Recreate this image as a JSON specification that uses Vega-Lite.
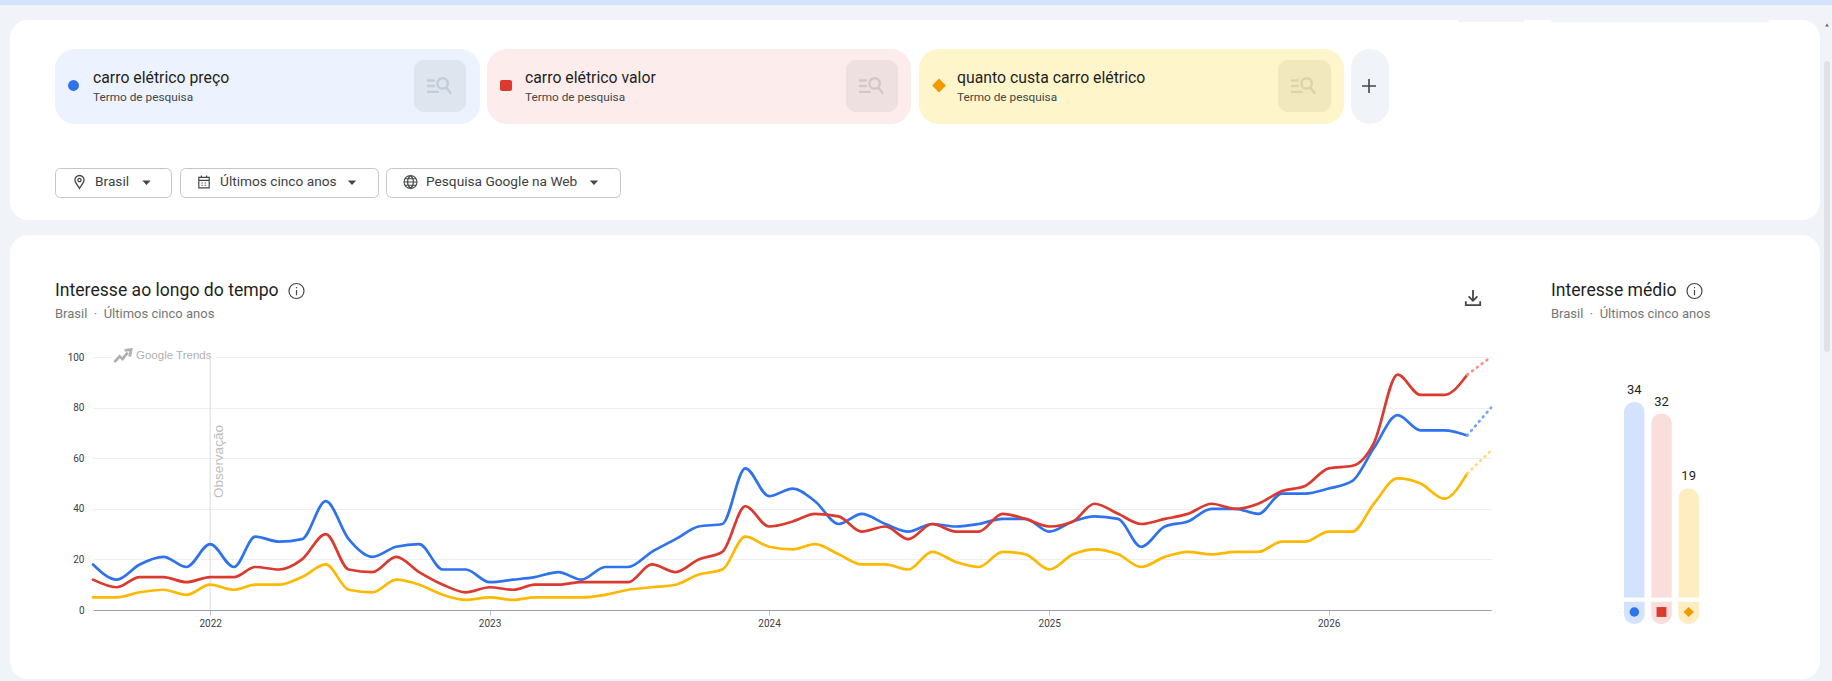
{
"$schema":"https://vega.github.io/schema/vega-lite/v6.json",
"width":1398,"height":253,
"autosize":{"type":"none"},
"padding":{"left":93,"top":357,"right":341,"bottom":71},
"background":"#ffffff",
"config":{"view":{"stroke":null},"axis":{"disable":true},"font":"Roboto"},
"data":{"values":[{}]},
"datasets":{
"media":[{"termo":"preço","media":34},{"termo":"valor","media":32},{"termo":"custa","media":19}],
"serie":[
{"mes":"2021-08-01T00:00","termo":"preço","valor":18},{"mes":"2021-09-01T00:00","termo":"preço","valor":12},{"mes":"2021-10-01T00:00","termo":"preço","valor":18},{"mes":"2021-11-01T00:00","termo":"preço","valor":21},{"mes":"2021-12-01T00:00","termo":"preço","valor":17},
{"mes":"2022-01-01T00:00","termo":"preço","valor":26},{"mes":"2022-02-01T00:00","termo":"preço","valor":17},{"mes":"2022-03-01T00:00","termo":"preço","valor":29},{"mes":"2022-04-01T00:00","termo":"preço","valor":27},{"mes":"2022-05-01T00:00","termo":"preço","valor":28},{"mes":"2022-06-01T00:00","termo":"preço","valor":43},{"mes":"2022-07-01T00:00","termo":"preço","valor":28},{"mes":"2022-08-01T00:00","termo":"preço","valor":21},{"mes":"2022-09-01T00:00","termo":"preço","valor":25},{"mes":"2022-10-01T00:00","termo":"preço","valor":26},{"mes":"2022-11-01T00:00","termo":"preço","valor":16},{"mes":"2022-12-01T00:00","termo":"preço","valor":16},
{"mes":"2023-01-01T00:00","termo":"preço","valor":11},{"mes":"2023-02-01T00:00","termo":"preço","valor":12},{"mes":"2023-03-01T00:00","termo":"preço","valor":13},{"mes":"2023-04-01T00:00","termo":"preço","valor":15},{"mes":"2023-05-01T00:00","termo":"preço","valor":12},{"mes":"2023-06-01T00:00","termo":"preço","valor":17},{"mes":"2023-07-01T00:00","termo":"preço","valor":17},{"mes":"2023-08-01T00:00","termo":"preço","valor":23},{"mes":"2023-09-01T00:00","termo":"preço","valor":28},{"mes":"2023-10-01T00:00","termo":"preço","valor":33},{"mes":"2023-11-01T00:00","termo":"preço","valor":34},{"mes":"2023-12-01T00:00","termo":"preço","valor":56},
{"mes":"2024-01-01T00:00","termo":"preço","valor":45},{"mes":"2024-02-01T00:00","termo":"preço","valor":48},{"mes":"2024-03-01T00:00","termo":"preço","valor":43},{"mes":"2024-04-01T00:00","termo":"preço","valor":34},{"mes":"2024-05-01T00:00","termo":"preço","valor":38},{"mes":"2024-06-01T00:00","termo":"preço","valor":34},{"mes":"2024-07-01T00:00","termo":"preço","valor":31},{"mes":"2024-08-01T00:00","termo":"preço","valor":34},{"mes":"2024-09-01T00:00","termo":"preço","valor":33},{"mes":"2024-10-01T00:00","termo":"preço","valor":34},{"mes":"2024-11-01T00:00","termo":"preço","valor":36},{"mes":"2024-12-01T00:00","termo":"preço","valor":36},
{"mes":"2025-01-01T00:00","termo":"preço","valor":31},{"mes":"2025-02-01T00:00","termo":"preço","valor":35},{"mes":"2025-03-01T00:00","termo":"preço","valor":37},{"mes":"2025-04-01T00:00","termo":"preço","valor":36},{"mes":"2025-05-01T00:00","termo":"preço","valor":25},{"mes":"2025-06-01T00:00","termo":"preço","valor":33},{"mes":"2025-07-01T00:00","termo":"preço","valor":35},{"mes":"2025-08-01T00:00","termo":"preço","valor":40},{"mes":"2025-09-01T00:00","termo":"preço","valor":40},{"mes":"2025-10-01T00:00","termo":"preço","valor":38},{"mes":"2025-11-01T00:00","termo":"preço","valor":46},{"mes":"2025-12-01T00:00","termo":"preço","valor":46},
{"mes":"2026-01-01T00:00","termo":"preço","valor":48},{"mes":"2026-02-01T00:00","termo":"preço","valor":51},{"mes":"2026-03-01T00:00","termo":"preço","valor":64},{"mes":"2026-04-01T00:00","termo":"preço","valor":77},{"mes":"2026-05-01T00:00","termo":"preço","valor":71},{"mes":"2026-06-01T00:00","termo":"preço","valor":71},{"mes":"2026-07-01T00:00","termo":"preço","valor":69,"fase":"junção"},{"mes":"2026-08-01T00:00","termo":"preço","valor":80,"fase":"parcial"},
{"mes":"2021-08-01T00:00","termo":"valor","valor":12},{"mes":"2021-09-01T00:00","termo":"valor","valor":9},{"mes":"2021-10-01T00:00","termo":"valor","valor":13},{"mes":"2021-11-01T00:00","termo":"valor","valor":13},{"mes":"2021-12-01T00:00","termo":"valor","valor":11},
{"mes":"2022-01-01T00:00","termo":"valor","valor":13},{"mes":"2022-02-01T00:00","termo":"valor","valor":13},{"mes":"2022-03-01T00:00","termo":"valor","valor":17},{"mes":"2022-04-01T00:00","termo":"valor","valor":16},{"mes":"2022-05-01T00:00","termo":"valor","valor":20},{"mes":"2022-06-01T00:00","termo":"valor","valor":30},{"mes":"2022-07-01T00:00","termo":"valor","valor":16},{"mes":"2022-08-01T00:00","termo":"valor","valor":15},{"mes":"2022-09-01T00:00","termo":"valor","valor":21},{"mes":"2022-10-01T00:00","termo":"valor","valor":15},{"mes":"2022-11-01T00:00","termo":"valor","valor":10},{"mes":"2022-12-01T00:00","termo":"valor","valor":7},
{"mes":"2023-01-01T00:00","termo":"valor","valor":9},{"mes":"2023-02-01T00:00","termo":"valor","valor":8},{"mes":"2023-03-01T00:00","termo":"valor","valor":10},{"mes":"2023-04-01T00:00","termo":"valor","valor":10},{"mes":"2023-05-01T00:00","termo":"valor","valor":11},{"mes":"2023-06-01T00:00","termo":"valor","valor":11},{"mes":"2023-07-01T00:00","termo":"valor","valor":11},{"mes":"2023-08-01T00:00","termo":"valor","valor":18},{"mes":"2023-09-01T00:00","termo":"valor","valor":15},{"mes":"2023-10-01T00:00","termo":"valor","valor":20},{"mes":"2023-11-01T00:00","termo":"valor","valor":23},{"mes":"2023-12-01T00:00","termo":"valor","valor":41},
{"mes":"2024-01-01T00:00","termo":"valor","valor":33},{"mes":"2024-02-01T00:00","termo":"valor","valor":35},{"mes":"2024-03-01T00:00","termo":"valor","valor":38},{"mes":"2024-04-01T00:00","termo":"valor","valor":37},{"mes":"2024-05-01T00:00","termo":"valor","valor":31},{"mes":"2024-06-01T00:00","termo":"valor","valor":33},{"mes":"2024-07-01T00:00","termo":"valor","valor":28},{"mes":"2024-08-01T00:00","termo":"valor","valor":34},{"mes":"2024-09-01T00:00","termo":"valor","valor":31},{"mes":"2024-10-01T00:00","termo":"valor","valor":31},{"mes":"2024-11-01T00:00","termo":"valor","valor":38},{"mes":"2024-12-01T00:00","termo":"valor","valor":36},
{"mes":"2025-01-01T00:00","termo":"valor","valor":33},{"mes":"2025-02-01T00:00","termo":"valor","valor":35},{"mes":"2025-03-01T00:00","termo":"valor","valor":42},{"mes":"2025-04-01T00:00","termo":"valor","valor":38},{"mes":"2025-05-01T00:00","termo":"valor","valor":34},{"mes":"2025-06-01T00:00","termo":"valor","valor":36},{"mes":"2025-07-01T00:00","termo":"valor","valor":38},{"mes":"2025-08-01T00:00","termo":"valor","valor":42},{"mes":"2025-09-01T00:00","termo":"valor","valor":40},{"mes":"2025-10-01T00:00","termo":"valor","valor":42},{"mes":"2025-11-01T00:00","termo":"valor","valor":47},{"mes":"2025-12-01T00:00","termo":"valor","valor":49},
{"mes":"2026-01-01T00:00","termo":"valor","valor":56},{"mes":"2026-02-01T00:00","termo":"valor","valor":57},{"mes":"2026-03-01T00:00","termo":"valor","valor":66},{"mes":"2026-04-01T00:00","termo":"valor","valor":93},{"mes":"2026-05-01T00:00","termo":"valor","valor":85},{"mes":"2026-06-01T00:00","termo":"valor","valor":85},{"mes":"2026-07-01T00:00","termo":"valor","valor":93,"fase":"junção"},{"mes":"2026-08-01T00:00","termo":"valor","valor":100,"fase":"parcial"},
{"mes":"2021-08-01T00:00","termo":"custa","valor":5},{"mes":"2021-09-01T00:00","termo":"custa","valor":5},{"mes":"2021-10-01T00:00","termo":"custa","valor":7},{"mes":"2021-11-01T00:00","termo":"custa","valor":8},{"mes":"2021-12-01T00:00","termo":"custa","valor":6},
{"mes":"2022-01-01T00:00","termo":"custa","valor":10},{"mes":"2022-02-01T00:00","termo":"custa","valor":8},{"mes":"2022-03-01T00:00","termo":"custa","valor":10},{"mes":"2022-04-01T00:00","termo":"custa","valor":10},{"mes":"2022-05-01T00:00","termo":"custa","valor":13},{"mes":"2022-06-01T00:00","termo":"custa","valor":18},{"mes":"2022-07-01T00:00","termo":"custa","valor":8},{"mes":"2022-08-01T00:00","termo":"custa","valor":7},{"mes":"2022-09-01T00:00","termo":"custa","valor":12},{"mes":"2022-10-01T00:00","termo":"custa","valor":10},{"mes":"2022-11-01T00:00","termo":"custa","valor":6},{"mes":"2022-12-01T00:00","termo":"custa","valor":4},
{"mes":"2023-01-01T00:00","termo":"custa","valor":5},{"mes":"2023-02-01T00:00","termo":"custa","valor":4},{"mes":"2023-03-01T00:00","termo":"custa","valor":5},{"mes":"2023-04-01T00:00","termo":"custa","valor":5},{"mes":"2023-05-01T00:00","termo":"custa","valor":5},{"mes":"2023-06-01T00:00","termo":"custa","valor":6},{"mes":"2023-07-01T00:00","termo":"custa","valor":8},{"mes":"2023-08-01T00:00","termo":"custa","valor":9},{"mes":"2023-09-01T00:00","termo":"custa","valor":10},{"mes":"2023-10-01T00:00","termo":"custa","valor":14},{"mes":"2023-11-01T00:00","termo":"custa","valor":16},{"mes":"2023-12-01T00:00","termo":"custa","valor":29},
{"mes":"2024-01-01T00:00","termo":"custa","valor":25},{"mes":"2024-02-01T00:00","termo":"custa","valor":24},{"mes":"2024-03-01T00:00","termo":"custa","valor":26},{"mes":"2024-04-01T00:00","termo":"custa","valor":22},{"mes":"2024-05-01T00:00","termo":"custa","valor":18},{"mes":"2024-06-01T00:00","termo":"custa","valor":18},{"mes":"2024-07-01T00:00","termo":"custa","valor":16},{"mes":"2024-08-01T00:00","termo":"custa","valor":23},{"mes":"2024-09-01T00:00","termo":"custa","valor":19},{"mes":"2024-10-01T00:00","termo":"custa","valor":17},{"mes":"2024-11-01T00:00","termo":"custa","valor":23},{"mes":"2024-12-01T00:00","termo":"custa","valor":22},
{"mes":"2025-01-01T00:00","termo":"custa","valor":16},{"mes":"2025-02-01T00:00","termo":"custa","valor":22},{"mes":"2025-03-01T00:00","termo":"custa","valor":24},{"mes":"2025-04-01T00:00","termo":"custa","valor":22},{"mes":"2025-05-01T00:00","termo":"custa","valor":17},{"mes":"2025-06-01T00:00","termo":"custa","valor":21},{"mes":"2025-07-01T00:00","termo":"custa","valor":23},{"mes":"2025-08-01T00:00","termo":"custa","valor":22},{"mes":"2025-09-01T00:00","termo":"custa","valor":23},{"mes":"2025-10-01T00:00","termo":"custa","valor":23},{"mes":"2025-11-01T00:00","termo":"custa","valor":27},{"mes":"2025-12-01T00:00","termo":"custa","valor":27},
{"mes":"2026-01-01T00:00","termo":"custa","valor":31},{"mes":"2026-02-01T00:00","termo":"custa","valor":31},{"mes":"2026-03-01T00:00","termo":"custa","valor":42},{"mes":"2026-04-01T00:00","termo":"custa","valor":52},{"mes":"2026-05-01T00:00","termo":"custa","valor":50},{"mes":"2026-06-01T00:00","termo":"custa","valor":44},{"mes":"2026-07-01T00:00","termo":"custa","valor":54,"fase":"junção"},{"mes":"2026-08-01T00:00","termo":"custa","valor":63,"fase":"parcial"}
]},
"resolve":{"scale":{"x":"independent","y":"independent","color":"independent"}},
"layer":[
{"mark":{"type":"rect","fill":"#f0f3f8"},"encoding":{"x":{"datum":0,"scale":{"domain":[0,1832],"range":[-93,1739]}},"x2":{"datum":1832},"y":{"datum":0,"scale":{"domain":[0,681],"range":[-357,324]}},"y2":{"datum":235}}},
{"mark":{"type":"rect","fill":"#d3e3fd"},"encoding":{"x":{"datum":0,"scale":{"domain":[0,1832],"range":[-93,1739]}},"x2":{"datum":1832},"y":{"datum":0,"scale":{"domain":[0,681],"range":[-357,324]}},"y2":{"datum":5}}},
{"mark":{"type":"rect","fill":"transparent","stroke":"#f0f3f8","strokeWidth":40,"cornerRadius":38},"encoding":{"x":{"datum":-10,"scale":{"domain":[0,1832],"range":[-93,1739]}},"x2":{"datum":1840},"y":{"datum":215,"scale":{"domain":[0,681],"range":[-357,324]}},"y2":{"datum":699}}},
{"mark":{"type":"rect","fill":"#ffffff","cornerRadius":18},"encoding":{"x":{"datum":10,"scale":{"domain":[0,1832],"range":[-93,1739]}},"x2":{"datum":1820},"y":{"datum":20,"scale":{"domain":[0,681],"range":[-357,324]}},"y2":{"datum":220}}},
{"mark":{"type":"rect","fill":"#e6e8ec"},"encoding":{"x":{"datum":1458,"scale":{"domain":[0,1832],"range":[-93,1739]}},"x2":{"datum":1524},"y":{"datum":20.5,"scale":{"domain":[0,681],"range":[-357,324]}},"y2":{"datum":21.5}}},
{"mark":{"type":"rect","fill":"#f0f3f8","cornerRadius":2},"encoding":{"x":{"datum":1551,"scale":{"domain":[0,1832],"range":[-93,1739]}},"x2":{"datum":1769},"y":{"datum":20,"scale":{"domain":[0,681],"range":[-357,324]}},"y2":{"datum":22.5}}},
{"mark":{"type":"rect","fill":"#dde1e8","cornerRadius":3},"encoding":{"x":{"datum":1824,"scale":{"domain":[0,1832],"range":[-93,1739]}},"x2":{"datum":1830},"y":{"datum":61,"scale":{"domain":[0,681],"range":[-357,324]}},"y2":{"datum":352}}},
{"mark":{"type":"point","shape":"triangle-up","size":14,"filled":true,"fill":"#5f6368","opacity":1},"encoding":{"x":{"datum":1827,"scale":{"domain":[0,1832],"range":[-93,1739]}},"y":{"datum":25,"scale":{"domain":[0,681],"range":[-357,324]}}}},

{"mark":{"type":"rect","fill":"#ecf2fe","cornerRadius":20},"encoding":{"x":{"datum":55,"scale":{"domain":[0,1832],"range":[-93,1739]}},"x2":{"datum":480},"y":{"datum":49,"scale":{"domain":[0,681],"range":[-357,324]}},"y2":{"datum":124}}},
{"mark":{"type":"rect","fill":"#fcecec","cornerRadius":20},"encoding":{"x":{"datum":487,"scale":{"domain":[0,1832],"range":[-93,1739]}},"x2":{"datum":911},"y":{"datum":49,"scale":{"domain":[0,681],"range":[-357,324]}},"y2":{"datum":124}}},
{"mark":{"type":"rect","fill":"#fef5ca","cornerRadius":20},"encoding":{"x":{"datum":919,"scale":{"domain":[0,1832],"range":[-93,1739]}},"x2":{"datum":1344},"y":{"datum":49,"scale":{"domain":[0,681],"range":[-357,324]}},"y2":{"datum":124}}},
{"mark":{"type":"rect","fill":"#f0f3f8","cornerRadius":19},"encoding":{"x":{"datum":1351,"scale":{"domain":[0,1832],"range":[-93,1739]}},"x2":{"datum":1389},"y":{"datum":49,"scale":{"domain":[0,681],"range":[-357,324]}},"y2":{"datum":124}}},
{"mark":{"type":"rect","fill":"#dfe5ef","cornerRadius":10},"encoding":{"x":{"datum":414,"scale":{"domain":[0,1832],"range":[-93,1739]}},"x2":{"datum":466},"y":{"datum":60,"scale":{"domain":[0,681],"range":[-357,324]}},"y2":{"datum":112}}},
{"mark":{"type":"rect","fill":"#eee0e0","cornerRadius":10},"encoding":{"x":{"datum":846,"scale":{"domain":[0,1832],"range":[-93,1739]}},"x2":{"datum":898},"y":{"datum":60,"scale":{"domain":[0,681],"range":[-357,324]}},"y2":{"datum":112}}},
{"mark":{"type":"rect","fill":"#f2e8bd","cornerRadius":10},"encoding":{"x":{"datum":1278,"scale":{"domain":[0,1832],"range":[-93,1739]}},"x2":{"datum":1331},"y":{"datum":60,"scale":{"domain":[0,681],"range":[-357,324]}},"y2":{"datum":112}}},
{"mark":{"type":"point","shape":"M-1,-.42H-.4M-1,0H-.4M-1,.45H-.1M.6,-.2A.4,.4 0 1 1 -.2,-.2A.4,.4 0 1 1 .6,-.2M.48,.12L.85,.6","size":676,"filled":false,"stroke":"#c3ccd8","strokeWidth":2.4,"opacity":1},"encoding":{"x":{"datum":440,"scale":{"domain":[0,1832],"range":[-93,1739]}},"y":{"datum":86,"scale":{"domain":[0,681],"range":[-357,324]}}}},
{"mark":{"type":"point","shape":"M-1,-.42H-.4M-1,0H-.4M-1,.45H-.1M.6,-.2A.4,.4 0 1 1 -.2,-.2A.4,.4 0 1 1 .6,-.2M.48,.12L.85,.6","size":676,"filled":false,"stroke":"#d2c7c8","strokeWidth":2.4,"opacity":1},"encoding":{"x":{"datum":872,"scale":{"domain":[0,1832],"range":[-93,1739]}},"y":{"datum":86,"scale":{"domain":[0,681],"range":[-357,324]}}}},
{"mark":{"type":"point","shape":"M-1,-.42H-.4M-1,0H-.4M-1,.45H-.1M.6,-.2A.4,.4 0 1 1 -.2,-.2A.4,.4 0 1 1 .6,-.2M.48,.12L.85,.6","size":676,"filled":false,"stroke":"#dbd3ac","strokeWidth":2.4,"opacity":1},"encoding":{"x":{"datum":1304,"scale":{"domain":[0,1832],"range":[-93,1739]}},"y":{"datum":86,"scale":{"domain":[0,681],"range":[-357,324]}}}},
{"mark":{"type":"point","shape":"circle","size":120,"filled":true,"fill":"#2f72ed","opacity":1},"encoding":{"x":{"datum":73.5,"scale":{"domain":[0,1832],"range":[-93,1739]}},"y":{"datum":85.5,"scale":{"domain":[0,681],"range":[-357,324]}}}},
{"mark":{"type":"rect","fill":"#db3a2f","cornerRadius":2},"encoding":{"x":{"datum":500,"scale":{"domain":[0,1832],"range":[-93,1739]}},"x2":{"datum":512},"y":{"datum":80,"scale":{"domain":[0,681],"range":[-357,324]}},"y2":{"datum":91}}},
{"mark":{"type":"point","shape":"diamond","size":190,"filled":true,"fill":"#f29900","opacity":1},"encoding":{"x":{"datum":939,"scale":{"domain":[0,1832],"range":[-93,1739]}},"y":{"datum":85.5,"scale":{"domain":[0,681],"range":[-357,324]}}}},
{"mark":{"type":"text","text":"carro elétrico preço","align":"left","baseline":"middle","fontSize":15.8,"fill":"#1f1f1f"},"encoding":{"x":{"datum":93,"scale":{"domain":[0,1832],"range":[-93,1739]}},"y":{"datum":78,"scale":{"domain":[0,681],"range":[-357,324]}}}},
{"mark":{"type":"text","text":"carro elétrico valor","align":"left","baseline":"middle","fontSize":15.8,"fill":"#1f1f1f"},"encoding":{"x":{"datum":525,"scale":{"domain":[0,1832],"range":[-93,1739]}},"y":{"datum":78,"scale":{"domain":[0,681],"range":[-357,324]}}}},
{"mark":{"type":"text","text":"quanto custa carro elétrico","align":"left","baseline":"middle","fontSize":15.8,"fill":"#1f1f1f"},"encoding":{"x":{"datum":957,"scale":{"domain":[0,1832],"range":[-93,1739]}},"y":{"datum":78,"scale":{"domain":[0,681],"range":[-357,324]}}}},
{"mark":{"type":"text","text":"Termo de pesquisa","align":"left","baseline":"middle","fontSize":11.8,"fill":"#444746"},"encoding":{"x":{"datum":93,"scale":{"domain":[0,1832],"range":[-93,1739]}},"y":{"datum":97,"scale":{"domain":[0,681],"range":[-357,324]}}}},
{"mark":{"type":"text","text":"Termo de pesquisa","align":"left","baseline":"middle","fontSize":11.8,"fill":"#444746"},"encoding":{"x":{"datum":525,"scale":{"domain":[0,1832],"range":[-93,1739]}},"y":{"datum":97,"scale":{"domain":[0,681],"range":[-357,324]}}}},
{"mark":{"type":"text","text":"Termo de pesquisa","align":"left","baseline":"middle","fontSize":11.8,"fill":"#444746"},"encoding":{"x":{"datum":957,"scale":{"domain":[0,1832],"range":[-93,1739]}},"y":{"datum":97,"scale":{"domain":[0,681],"range":[-357,324]}}}},
{"mark":{"type":"point","shape":"M-1,0H1M0,-1V1","size":196,"filled":false,"stroke":"#444746","strokeWidth":1.6,"opacity":1},"encoding":{"x":{"datum":1369,"scale":{"domain":[0,1832],"range":[-93,1739]}},"y":{"datum":86,"scale":{"domain":[0,681],"range":[-357,324]}}}},

{"mark":{"type":"rect","fill":"#ffffff","stroke":"#c4c7c5","cornerRadius":5},"encoding":{"x":{"datum":55.5,"scale":{"domain":[0,1832],"range":[-93,1739]}},"x2":{"datum":171.5},"y":{"datum":168.5,"scale":{"domain":[0,681],"range":[-357,324]}},"y2":{"datum":197.5}}},
{"mark":{"type":"rect","fill":"#ffffff","stroke":"#c4c7c5","cornerRadius":5},"encoding":{"x":{"datum":180.5,"scale":{"domain":[0,1832],"range":[-93,1739]}},"x2":{"datum":378.5},"y":{"datum":168.5,"scale":{"domain":[0,681],"range":[-357,324]}},"y2":{"datum":197.5}}},
{"mark":{"type":"rect","fill":"#ffffff","stroke":"#c4c7c5","cornerRadius":5},"encoding":{"x":{"datum":386.5,"scale":{"domain":[0,1832],"range":[-93,1739]}},"x2":{"datum":620.5},"y":{"datum":168.5,"scale":{"domain":[0,681],"range":[-357,324]}},"y2":{"datum":197.5}}},
{"mark":{"type":"text","text":"Brasil","align":"left","baseline":"middle","fontSize":13.7,"fill":"#3c4043"},"encoding":{"x":{"datum":95,"scale":{"domain":[0,1832],"range":[-93,1739]}},"y":{"datum":182,"scale":{"domain":[0,681],"range":[-357,324]}}}},
{"mark":{"type":"text","text":"Últimos cinco anos","align":"left","baseline":"middle","fontSize":13.7,"fill":"#3c4043"},"encoding":{"x":{"datum":220,"scale":{"domain":[0,1832],"range":[-93,1739]}},"y":{"datum":182,"scale":{"domain":[0,681],"range":[-357,324]}}}},
{"mark":{"type":"text","text":"Pesquisa Google na Web","align":"left","baseline":"middle","fontSize":13.7,"fill":"#3c4043"},"encoding":{"x":{"datum":426,"scale":{"domain":[0,1832],"range":[-93,1739]}},"y":{"datum":182,"scale":{"domain":[0,681],"range":[-357,324]}}}},
{"mark":{"type":"point","shape":"M-1,-.5H1L0,.6Z","size":70,"filled":true,"fill":"#444746","opacity":1},"encoding":{"x":{"datum":146.5,"scale":{"domain":[0,1832],"range":[-93,1739]}},"y":{"datum":182.5,"scale":{"domain":[0,681],"range":[-357,324]}}}},
{"mark":{"type":"point","shape":"M-1,-.5H1L0,.6Z","size":70,"filled":true,"fill":"#444746","opacity":1},"encoding":{"x":{"datum":352,"scale":{"domain":[0,1832],"range":[-93,1739]}},"y":{"datum":182.5,"scale":{"domain":[0,681],"range":[-357,324]}}}},
{"mark":{"type":"point","shape":"M-1,-.5H1L0,.6Z","size":70,"filled":true,"fill":"#444746","opacity":1},"encoding":{"x":{"datum":594,"scale":{"domain":[0,1832],"range":[-93,1739]}},"y":{"datum":182.5,"scale":{"domain":[0,681],"range":[-357,324]}}}},
{"mark":{"type":"point","shape":"M0,1C-.3,.5 -.7,.1 -.7,-.3A.7,.7 0 1 1 .7,-.3C.7,.1 .3,.5 0,1ZM.25,-.3A.25,.25 0 1 1 -.25,-.3A.25,.25 0 1 1 .25,-.3","size":169,"filled":false,"stroke":"#444746","strokeWidth":1.3,"opacity":1},"encoding":{"x":{"datum":79.5,"scale":{"domain":[0,1832],"range":[-93,1739]}},"y":{"datum":182,"scale":{"domain":[0,681],"range":[-357,324]}}}},
{"mark":{"type":"point","shape":"M-.8,-.7H.8V.9H-.8ZM-.8,-.25H.8M-.4,-1V-.6M.4,-1V-.6M-.4,.15H-.2M.1,.15H.3M-.4,.5H-.2M.1,.5H.3","size":169,"filled":false,"stroke":"#444746","strokeWidth":1.2,"opacity":1},"encoding":{"x":{"datum":204,"scale":{"domain":[0,1832],"range":[-93,1739]}},"y":{"datum":182,"scale":{"domain":[0,681],"range":[-357,324]}}}},
{"mark":{"type":"point","shape":"M1,0A1,1 0 1 1 -1,0A1,1 0 1 1 1,0ZM0,-1C-.6,-.5 -.6,.5 0,1C.6,.5 .6,-.5 0,-1ZM-1,0H1M-.87,-.5H.87M-.87,.5H.87","size":169,"filled":false,"stroke":"#444746","strokeWidth":1.1,"opacity":1},"encoding":{"x":{"datum":410.5,"scale":{"domain":[0,1832],"range":[-93,1739]}},"y":{"datum":182,"scale":{"domain":[0,681],"range":[-357,324]}}}},

{"mark":{"type":"text","text":"Interesse ao longo do tempo","align":"left","baseline":"middle","fontSize":17.6,"fill":"#1f1f1f"},"encoding":{"x":{"datum":55,"scale":{"domain":[0,1832],"range":[-93,1739]}},"y":{"datum":291,"scale":{"domain":[0,681],"range":[-357,324]}}}},
{"mark":{"type":"text","text":"Brasil\u00a0\u00a0·\u00a0\u00a0Últimos cinco anos","align":"left","baseline":"middle","fontSize":13,"fill":"#747775"},"encoding":{"x":{"datum":55,"scale":{"domain":[0,1832],"range":[-93,1739]}},"y":{"datum":314,"scale":{"domain":[0,681],"range":[-357,324]}}}},
{"mark":{"type":"text","text":"Interesse médio","align":"left","baseline":"middle","fontSize":17.6,"fill":"#1f1f1f"},"encoding":{"x":{"datum":1551,"scale":{"domain":[0,1832],"range":[-93,1739]}},"y":{"datum":291,"scale":{"domain":[0,681],"range":[-357,324]}}}},
{"mark":{"type":"text","text":"Brasil\u00a0\u00a0·\u00a0\u00a0Últimos cinco anos","align":"left","baseline":"middle","fontSize":13,"fill":"#747775"},"encoding":{"x":{"datum":1551,"scale":{"domain":[0,1832],"range":[-93,1739]}},"y":{"datum":314,"scale":{"domain":[0,681],"range":[-357,324]}}}},
{"mark":{"type":"point","shape":"M1,0A1,1 0 1 1 -1,0A1,1 0 1 1 1,0ZM0,-.12V.55M0,-.55V-.38","size":225,"filled":false,"stroke":"#444746","strokeWidth":1.2,"opacity":1},"encoding":{"x":{"datum":296.5,"scale":{"domain":[0,1832],"range":[-93,1739]}},"y":{"datum":291,"scale":{"domain":[0,681],"range":[-357,324]}}}},
{"mark":{"type":"point","shape":"M1,0A1,1 0 1 1 -1,0A1,1 0 1 1 1,0ZM0,-.12V.55M0,-.55V-.38","size":225,"filled":false,"stroke":"#444746","strokeWidth":1.2,"opacity":1},"encoding":{"x":{"datum":1694.5,"scale":{"domain":[0,1832],"range":[-93,1739]}},"y":{"datum":291,"scale":{"domain":[0,681],"range":[-357,324]}}}},
{"mark":{"type":"point","shape":"M0,-1V.3M-.55,-.2L0,.35L.55,-.2M-.9,.4V.9H.9V.4","size":256,"filled":false,"stroke":"#444746","strokeWidth":1.8,"opacity":1},"encoding":{"x":{"datum":1473,"scale":{"domain":[0,1832],"range":[-93,1739]}},"y":{"datum":298,"scale":{"domain":[0,681],"range":[-357,324]}}}},

{"mark":{"type":"rect","fill":"#ffffff"},"encoding":{"x":{"datum":111,"scale":{"domain":[0,1832],"range":[-93,1739]}},"x2":{"datum":216},"y":{"datum":350,"scale":{"domain":[0,681],"range":[-357,324]}},"y2":{"datum":362}}},
{"mark":{"type":"text","text":"Google Trends","align":"left","baseline":"middle","font":"Liberation Sans","fontSize":11.5,"fill":"#b0b0b0"},"encoding":{"x":{"datum":136,"scale":{"domain":[0,1832],"range":[-93,1739]}},"y":{"datum":356,"scale":{"domain":[0,681],"range":[-357,324]}}}},
{"mark":{"type":"point","shape":"M-1,.7L-.4,.05L-.05,.35L.55,-.4M.2,-.65L.95,-.75L.8,.05","size":289,"filled":false,"stroke":"#b0b0b0","strokeWidth":2.8,"opacity":1},"encoding":{"x":{"datum":123,"scale":{"domain":[0,1832],"range":[-93,1739]}},"y":{"datum":356,"scale":{"domain":[0,681],"range":[-357,324]}}}},
{"mark":{"type":"rule","stroke":"#dadce0","strokeWidth":1},"encoding":{"x":{"datum":{"year":2022,"month":1,"date":1},"type":"temporal","scale":{"domain":[{"year":2021,"month":8,"date":1},{"year":2026,"month":8,"date":1}]}}}},
{"mark":{"type":"text","text":"Observação","angle":270,"align":"center","baseline":"middle","font":"Liberation Sans","fontSize":13.5,"fill":"#bdbdbd"},"encoding":{"x":{"datum":218.5,"scale":{"domain":[0,1832],"range":[-93,1739]}},"y":{"datum":461.5,"scale":{"domain":[0,681],"range":[-357,324]}}}},

{"data":{"name":"serie"},"transform":[{"filter":"datum.fase != 'parcial'"}],
 "mark":{"type":"line","interpolate":"monotone","strokeWidth":2.7,"strokeCap":"round"},
 "encoding":{
  "x":{"field":"mes","type":"temporal","scale":{"domain":[{"year":2021,"month":8,"date":1},{"year":2026,"month":8,"date":1}]},
   "axis":{"disable":false,"values":[{"year":2022,"month":1,"date":1},{"year":2023,"month":1,"date":1},{"year":2024,"month":1,"date":1},{"year":2025,"month":1,"date":1},{"year":2026,"month":1,"date":1}],"format":"%Y","title":null,"grid":false,"labelFont":"Roboto","labelFontSize":10,"labelColor":"#3c4043","labelPadding":3,"tickColor":"#bdc1c6","tickSize":5,"domainColor":"#9aa0a6","domainWidth":1,"labelFlush":false}},
  "y":{"field":"valor","type":"quantitative","scale":{"domain":[0,100],"nice":false},
   "axis":{"disable":false,"values":[0,20,40,60,80,100],"title":null,"domain":false,"ticks":false,"grid":true,"gridColor":"#eeeff1","gridWidth":1,"labelFont":"Roboto","labelFontSize":10,"labelColor":"#3c4043","labelPadding":9}},
  "color":{"field":"termo","type":"nominal","sort":["preço","valor","custa"],"scale":{"domain":["preço","valor","custa"],"range":["#2f72ed","#db3a2f","#fcb900"]},"legend":null}
 }},
{"data":{"name":"serie"},"transform":[{"filter":"isValid(datum.fase)"}],
 "mark":{"type":"line","interpolate":"monotone","strokeWidth":2.7,"strokeDash":[1,5],"strokeCap":"round"},
 "encoding":{
  "x":{"field":"mes","type":"temporal","scale":{"domain":[{"year":2021,"month":8,"date":1},{"year":2026,"month":8,"date":1}]}},
  "y":{"field":"valor","type":"quantitative","scale":{"domain":[0,100],"nice":false}},
  "color":{"field":"termo","type":"nominal","scale":{"domain":["preço","valor","custa"],"range":["#7aa5f5","#f7918a","#ffdc7a"]},"legend":null}
 }},

{"data":{"name":"media"},"mark":{"type":"bar","cornerRadiusTopLeft":10.3,"cornerRadiusTopRight":10.3},
 "encoding":{
  "x":{"field":"termo","type":"nominal","sort":["preço","valor","custa"],"scale":{"type":"band","domain":["preço","valor","custa"],"range":[1531,1606],"paddingInner":0.24,"paddingOuter":0}},
  "y":{"field":"media","type":"quantitative","scale":{"domain":[0,34],"range":[240.7,45]}},
  "color":{"field":"termo","type":"nominal","scale":{"domain":["preço","valor","custa"],"range":["#d3e3fd","#fadedc","#feedc1"]},"legend":null}
 }},
{"data":{"name":"media"},"mark":{"type":"text","baseline":"bottom","dy":-5,"fontSize":13,"fill":"#1f1f1f"},
 "encoding":{
  "x":{"field":"termo","type":"nominal","scale":{"type":"band","domain":["preço","valor","custa"],"range":[1531,1606],"paddingInner":0.24,"paddingOuter":0}},
  "y":{"field":"media","type":"quantitative","scale":{"domain":[0,34],"range":[240.7,45]}},
  "text":{"field":"media","type":"quantitative"}
 }},
{"data":{"name":"media"},"mark":{"type":"bar","cornerRadiusBottomLeft":10.3,"cornerRadiusBottomRight":10.3},
 "encoding":{
  "x":{"field":"termo","type":"nominal","scale":{"type":"band","domain":["preço","valor","custa"],"range":[1531,1606],"paddingInner":0.24,"paddingOuter":0}},
  "y":{"datum":601.7,"scale":{"domain":[0,681],"range":[-357,324]}},
  "y2":{"datum":624},
  "color":{"field":"termo","type":"nominal","scale":{"domain":["preço","valor","custa"],"range":["#d3e3fd","#fadedc","#feedc1"]},"legend":null}
 }},
{"data":{"name":"media"},"mark":{"type":"point","filled":true,"opacity":1},
 "encoding":{
  "x":{"field":"termo","type":"nominal","scale":{"type":"band","domain":["preço","valor","custa"],"range":[1531,1606],"paddingInner":0.24,"paddingOuter":0}},
  "y":{"datum":612,"scale":{"domain":[0,681],"range":[-357,324]}},
  "shape":{"field":"termo","type":"nominal","scale":{"domain":["preço","valor","custa"],"range":["circle","square","diamond"]},"legend":null},
  "size":{"field":"termo","type":"nominal","scale":{"domain":["preço","valor","custa"],"range":[90,105,150]},"legend":null},
  "color":{"field":"termo","type":"nominal","scale":{"domain":["preço","valor","custa"],"range":["#2f72ed","#db3a2f","#f29900"]},"legend":null}
 }}
]
}
